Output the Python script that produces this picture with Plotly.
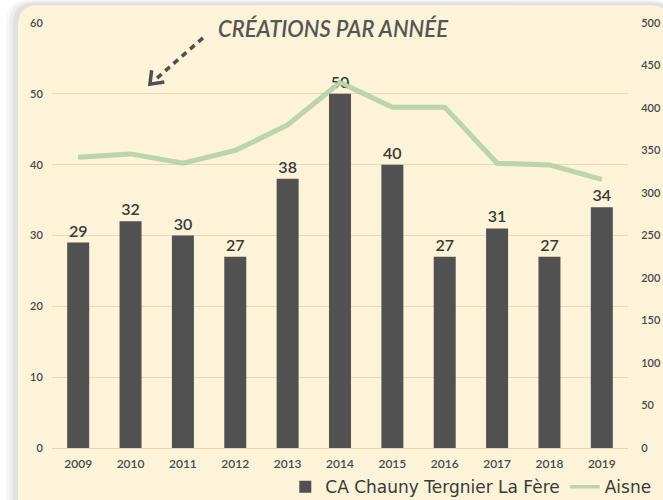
import plotly.graph_objects as go

years = ["2009", "2010", "2011", "2012", "2013", "2014", "2015", "2016", "2017", "2018", "2019"]
ca_values = [29, 32, 30, 27, 38, 50, 40, 27, 31, 27, 34]
aisne_values = [342, 346, 335, 350, 380, 430, 401, 401, 335, 333, 316]
left_ticks = [0, 10, 20, 30, 40, 50, 60]
right_ticks = [0, 50, 100, 150, 200, 250, 300, 350, 400, 450, 500]

FONT = "Lato"
TXT = "#4a4a4a"

fig = go.Figure()
fig.add_trace(go.Bar(
    x=years, y=ca_values, name="CA Chauny Tergnier La Fère",
    marker=dict(color="#515151", line=dict(width=0)),
    width=0.42,
    text=[str(v) for v in ca_values], textposition="outside",
    textfont=dict(size=16, color="#3a3a3a", family=FONT, weight=600),
    cliponaxis=False,
))
fig.add_trace(go.Scatter(
    x=years, y=aisne_values, yaxis="y2", mode="lines",
    line=dict(color="rgba(150,185,140,0.6)", width=5),
    showlegend=False, hoverinfo="skip",
))
fig.add_trace(go.Scatter(
    x=years, y=aisne_values, yaxis="y2", mode="lines", name="Aisne",
    line=dict(color="#b9d6ad", width=3.5),
))

def rounded(x0, y0, x1, y1, rx, ry):
    return (f"M {x0+rx},{y1} L {x1-rx},{y1} Q {x1},{y1} {x1},{y1-ry} "
            f"L {x1},{y0+ry} Q {x1},{y0} {x1-rx},{y0} L {x0+rx},{y0} "
            f"Q {x0},{y0} {x0},{y0+ry} L {x0},{y1-ry} Q {x0},{y1} {x0+rx},{y1} Z")

shapes = []
for i, op in enumerate([0.05, 0.06, 0.08]):
    d = (3 - i) * 0.006
    shapes.append(dict(type="path", xref="paper", yref="paper", layer="below",
                       path=rounded(-0.062 - d, -0.2, 1.08, 1.045 + d * 0.5, 0.04, 0.05),
                       fillcolor=f"rgba(90,90,90,{op})", line=dict(width=0)))
shapes.append(dict(type="path", xref="paper", yref="paper", layer="below",
                   path=rounded(-0.059, -0.2, 1.073, 1.042, 0.035, 0.047),
                   fillcolor="#fcf3d8", line=dict(width=0)))
# dashed arrow
shapes.append(dict(type="line", xref="paper", yref="paper",
                   x0=0.262, y0=0.965, x1=0.182, y1=0.870,
                   line=dict(color="#505050", width=3.5, dash="6px,5px")))
shapes.append(dict(type="path", xref="paper", yref="paper",
                   path="M 0.173,0.889 L 0.170,0.856 L 0.195,0.861",
                   line=dict(color="#505050", width=3.5)))

fig.update_layout(
    width=663, height=500,
    margin=dict(l=52, r=35, t=23, b=52, autoexpand=False),
    paper_bgcolor="white",
    plot_bgcolor="rgba(0,0,0,0)",
    font=dict(family=FONT, color=TXT),
    shapes=shapes,
    xaxis=dict(
        automargin=False,
        showgrid=False, showline=True, linecolor="#e3d5b5", linewidth=1,
        tickfont=dict(size=12, color=TXT, family=FONT, weight=600),
        ticks="outside", ticklen=5, tickcolor="rgba(0,0,0,0)",
    ),
    yaxis=dict(
        automargin=False,
        range=[0, 60], tickvals=left_ticks, showgrid=True, gridcolor="#e8dab9",
        gridwidth=1, zeroline=False, showline=False,
        tickfont=dict(size=11, color=TXT, family=FONT, weight=600),
        ticks="outside", ticklen=6, tickcolor="rgba(0,0,0,0)",
    ),
    yaxis2=dict(
        automargin=False,
        range=[0, 500], tickvals=right_ticks, overlaying="y", side="right",
        showgrid=False, zeroline=False, showline=False,
        tickfont=dict(size=11, color=TXT, family=FONT, weight=600),
        ticks="outside", ticklen=10, tickcolor="rgba(0,0,0,0)",
    ),
    legend=dict(
        orientation="h", x=0.405, y=-0.05, xanchor="left", yanchor="top",
        bgcolor="rgba(0,0,0,0)", font=dict(size=17, color="#3a3a3a", family="DejaVu Sans"),
        itemwidth=30, tracegroupgap=0,
    ),
    annotations=[dict(
        text="<i>CRÉATIONS PAR ANNÉE</i>", xref="paper", yref="paper",
        x=0.488, y=0.988, xanchor="center", yanchor="middle", showarrow=False,
        font=dict(size=22, color="#555555", family=FONT, weight=600),
    )],
)

fig.write_html(
    "out.html",
    config={"displayModeBar": False},
    post_script="document.body.style.margin='0px';document.body.style.overflow='hidden';",
)
